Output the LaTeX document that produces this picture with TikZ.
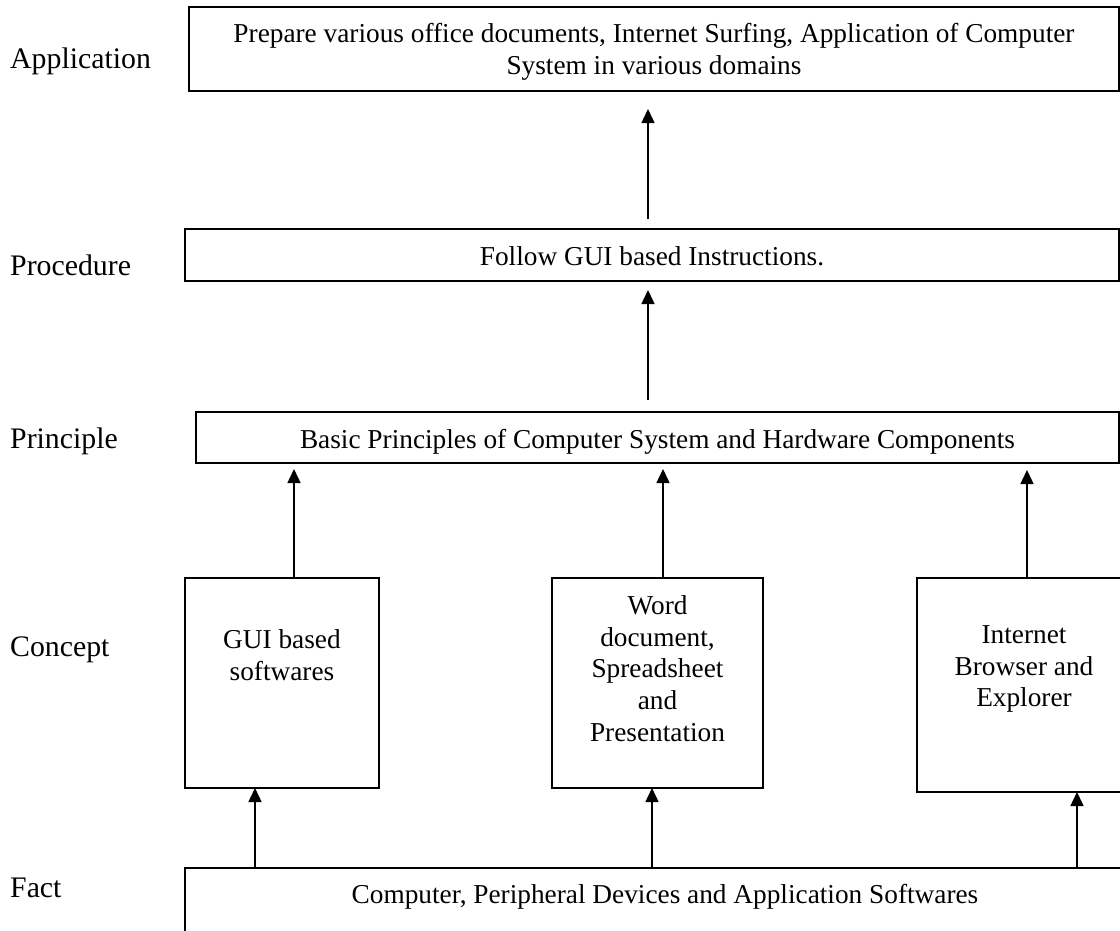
\documentclass[tikz,border=0pt]{standalone}
\usepackage{fontspec}
\setmainfont{Liberation Serif}
\usetikzlibrary{arrows.meta}

\tikzset{
  panel/.style={draw, line width=1.5pt, inner sep=0pt, outer sep=0pt},
  txt/.style={font=\fontsize{27.3}{31.6}\selectfont, align=center, inner sep=0pt},
  lvl/.style={font=\fontsize{29.8}{34}\selectfont, anchor=base west, inner sep=0pt},
  up/.style={-{Triangle[length=14pt,width=13pt]}, line width=1.5pt},
}

\begin{document}
\begin{tikzpicture}[x=1pt,y=-1pt]
\useasboundingbox (0,0) rectangle (1120,930);
\clip (0,0) rectangle (1120,930);

% level names on the left
\node[lvl] (lApp)  at (10,68)  {Application};
\node[lvl] (lProc) at (10,275) {Procedure};
\node[lvl] (lPrin) at (10,448) {Principle};
\node[lvl] (lCon)  at (10,656) {Concept};
\node[lvl] (lFact) at (10,897) {Fact};

% boxes
\node[panel, minimum width=930pt, minimum height=84pt]  (app)  at (654,49)    {};
\node[panel, minimum width=934pt, minimum height=52pt]  (proc) at (652,255)   {};
\node[panel, minimum width=923pt, minimum height=51pt]  (prin) at (657.5,437.5) {};
\node[panel, minimum width=194pt, minimum height=210pt] (gui)  at (282,683)   {};
\node[panel, minimum width=211pt, minimum height=210pt] (word) at (657.5,683) {};
\node[panel, minimum width=214pt, minimum height=214pt] (inet) at (1024,685)  {};
\node[panel, minimum width=960pt, minimum height=82pt]  (fact) at (665,909)   {};

% box texts
\node[txt] (appT) at (654,52) {Prepare various office documents, Internet Surfing, Application of Computer\\System in various domains};
\node[txt, anchor=base] (procT) at (652,265) {Follow GUI based Instructions.};
\node[txt, anchor=base] (prinT) at (657.5,448) {Basic Principles of Computer System and Hardware Components};
\node[txt] (guiT)  at (282,655) {GUI based\\softwares};
\node[txt] (wordT) at (657.5,668.5) {Word\\document,\\Spreadsheet\\and\\Presentation};
\node[txt] (inetT) at (1024,669) {Internet\\Browser and\\Explorer};
\node[txt, anchor=base] (factT) at (665,903) {Computer, Peripheral Devices and Application Softwares};

% connectors
\draw[up, shorten <=10pt, shorten >=18pt] ([xshift=-4pt]proc.north) -- ([xshift=-4pt]proc.north |- app.south);
\draw[up, shorten <=12pt, shorten >=9pt] ([xshift=-9.5pt]prin.north) -- ([xshift=-9.5pt]prin.north |- proc.south);
\draw[up, shorten >=6pt] ([xshift=12pt]gui.north) -- ([xshift=12pt]gui.north |- prin.south);
\draw[up, shorten >=6pt] ([xshift=5.5pt]word.north) -- ([xshift=5.5pt]word.north |- prin.south);
\draw[up, shorten >=7pt] ([xshift=3pt]inet.north) -- ([xshift=3pt]inet.north |- prin.south);
\draw[up] ([xshift=-27pt]gui.south |- fact.north) -- ([xshift=-27pt]gui.south);
\draw[up] ([xshift=-5.5pt]word.south |- fact.north) -- ([xshift=-5.5pt]word.south);
\draw[up] ([xshift=53pt]inet.south |- fact.north) -- ([xshift=53pt]inet.south);
\end{tikzpicture}
\end{document}
